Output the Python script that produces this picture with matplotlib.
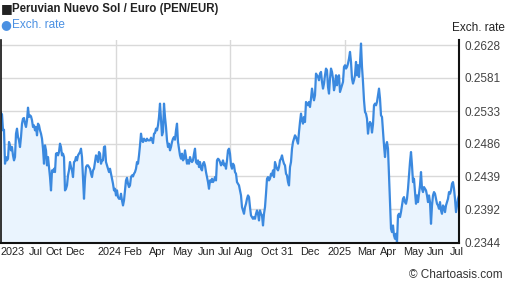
import numpy as np
import matplotlib
matplotlib.use("Agg")
import matplotlib.pyplot as plt

# ========================
# Data (PEN/EUR, roughly one value per pixel column)
# ========================
rate_2023 = [
    0.25302, 0.25283, 0.25053, 0.25062, 0.24573, 0.24669, 0.24621, 0.24645, 0.24885, 0.24837,
    0.24765, 0.24813, 0.24693, 0.24621, 0.24669, 0.25005, 0.25077, 0.24957, 0.24909, 0.24813,
    0.24957, 0.25149, 0.25221, 0.25230, 0.25149, 0.25101, 0.25197, 0.25379, 0.25245, 0.25269,
    0.25254, 0.25197, 0.25101, 0.25125, 0.25053, 0.25101, 0.24981, 0.25149, 0.25125, 0.25053,
    0.25005, 0.24933, 0.24789, 0.24573, 0.24837, 0.24765, 0.24549, 0.24669, 0.24525, 0.24381,
    0.24189, 0.24477, 0.24453, 0.24501, 0.24453, 0.24717, 0.24727, 0.24693, 0.24741, 0.24861,
    0.24813, 0.24693, 0.24717, 0.24669, 0.24189, 0.24213, 0.24261, 0.24405, 0.24477, 0.24597,
    0.24525, 0.24477, 0.24381, 0.24597, 0.24611,
    0.24669, 0.24621, 0.24693, 0.24717, 0.24741, 0.24789, 0.24669, 0.24381, 0.24069, 0.24357,
    0.24525, 0.24549, 0.24549, 0.24525, 0.24501, 0.24429, 0.24381, 0.24477, 0.24501, 0.24597,
    0.24693, 0.24669, 0.24597, 0.24741, 0.24717, 0.24573, 0.24621, 0.24621, 0.24813, 0.24823,
    0.24597, 0.24549, 0.24501, 0.24453, 0.24501, 0.24429, 0.24357, 0.24285, 0.24189, 0.24213,
    0.24117, 0.24189, 0.24093, 0.24069, 0.24069, 0.24141, 0.24045, 0.23973, 0.24045, 0.24189,
    0.24333, 0.24371, 0.24285, 0.24237, 0.24261, 0.24381, 0.24405, 0.24390, 0.24429, 0.24453,
    0.24501, 0.24597, 0.24573, 0.24693, 0.24837, 0.25005, 0.24909, 0.24885, 0.24933, 0.24909,
    0.24899, 0.24933, 0.24909, 0.24909, 0.24909,
]

rate_2024 = [
    0.24947, 0.24918, 0.24870, 0.25005, 0.25014, 0.25077, 0.25053, 0.25125, 0.25245, 0.25437,
    0.25197, 0.24981, 0.25029, 0.25437, 0.25245, 0.25101, 0.24909, 0.24813, 0.24861, 0.24765,
    0.24813, 0.24885, 0.24933, 0.24957, 0.24918, 0.25053, 0.25149, 0.24885, 0.24789, 0.24693,
    0.24645, 0.24717, 0.24621, 0.24645, 0.24765, 0.24669, 0.24573, 0.24621, 0.24573, 0.24669,
    0.24621, 0.24597, 0.24621, 0.24717, 0.24789, 0.24597, 0.24573, 0.24621, 0.24525, 0.24597,
    0.24501, 0.24477, 0.24573, 0.24597, 0.24549, 0.24453, 0.24381, 0.24309, 0.24213, 0.24333,
    0.24309, 0.24357, 0.24309, 0.24333, 0.24381, 0.24333, 0.24621, 0.24645, 0.24631, 0.24597,
    0.24549, 0.24573, 0.24621, 0.24549, 0.24573,
    0.24501, 0.24621, 0.24765, 0.24789, 0.24717, 0.24549, 0.24501, 0.24573, 0.24549, 0.24453,
    0.24429, 0.24309, 0.24285, 0.24261, 0.24189, 0.24117, 0.23949, 0.23901, 0.23853, 0.23949,
    0.23997, 0.24069, 0.24117, 0.24093, 0.23949, 0.23829, 0.23805, 0.23781, 0.23805, 0.23781,
    0.23853, 0.23901, 0.23853, 0.23757, 0.23901, 0.23853, 0.23829, 0.23685, 0.23853, 0.23949,
    0.24141, 0.24357, 0.24381, 0.24333, 0.24357, 0.24429, 0.24405, 0.24477, 0.24381, 0.24597,
    0.24549, 0.24501, 0.24477, 0.24525, 0.24621, 0.24645, 0.24693, 0.24621, 0.24573, 0.24549,
    0.24429, 0.24405, 0.24309, 0.24261, 0.24525, 0.24597,
]

rate_2025 = [
    0.24789, 0.24885, 0.24933, 0.24981, 0.24957, 0.24909, 0.24861, 0.25029, 0.25173, 0.25293,
    0.25197, 0.25149, 0.25245, 0.25173, 0.25461, 0.25437, 0.25413, 0.25461, 0.25389, 0.25509,
    0.25653, 0.25557, 0.25485, 0.25557, 0.25869, 0.25845, 0.25821, 0.25773, 0.25869, 0.25893,
    0.25749, 0.25653, 0.25725, 0.25845, 0.25941, 0.25917, 0.25677, 0.25581, 0.25797, 0.25941,
    0.25893, 0.25797, 0.25629, 0.25701, 0.25845, 0.25701, 0.25821, 0.25845, 0.25605, 0.25653,
    0.25701, 0.25749, 0.25965, 0.25989, 0.25941, 0.25965, 0.26013, 0.26085, 0.26181, 0.26037,
    0.25797, 0.25725, 0.25773, 0.25845, 0.26037, 0.25845, 0.25989, 0.25821, 0.26013, 0.26301,
    0.25965, 0.25749, 0.25485, 0.25317, 0.25293, 0.25221, 0.25005, 0.25125, 0.25173, 0.25149,
    0.25021, 0.25141, 0.25413, 0.25437, 0.25413, 0.25461, 0.25557, 0.25653, 0.25509, 0.25269,
    0.25245, 0.25029, 0.24837, 0.24669, 0.24837, 0.24885, 0.24789, 0.24405, 0.24021, 0.23637,
    0.23589, 0.23685, 0.23541, 0.23493, 0.23565, 0.23445, 0.23829, 0.23853, 0.23805, 0.23877,
    0.23973, 0.24069, 0.24093, 0.24021, 0.23997, 0.24069, 0.24213, 0.24405, 0.24597, 0.24741,
    0.24549, 0.24309, 0.24357, 0.24165, 0.23997, 0.24117, 0.24021, 0.24141, 0.24261, 0.24453,
    0.24213, 0.24165, 0.24237, 0.24213, 0.24189, 0.24117, 0.24021, 0.24117, 0.24021, 0.23709,
    0.23973, 0.24117, 0.24165, 0.24141, 0.24069, 0.23997, 0.23973, 0.23925, 0.24021, 0.23901,
    0.23853, 0.23973, 0.23949, 0.23877, 0.23973, 0.24021, 0.24069, 0.24165, 0.24141, 0.24189,
    0.24285, 0.24309, 0.24213, 0.24069, 0.23877, 0.23973, 0.24069, 0.24117,
]

rates = np.array(rate_2023 + rate_2024 + rate_2025)

y_ticks = [0.2344, 0.2392, 0.2439, 0.2486, 0.2533, 0.2581, 0.2628]
y_labels = ["0.2344", "0.2392", "0.2439", "0.2486", "0.2533", "0.2581", "0.2628"]

x_labels = ["2023", "Jul", "Oct", "Dec", "2024", "Feb", "Apr", "May", "Jun", "Jul",
            "Aug", "Oct 31", "Dec", "2025", "Mar", "Apr", "May", "Jun", "Jul"]
# where each label sits, as a fraction of the time span
x_label_pos = [0.026, 0.077, 0.115, 0.162, 0.236, 0.288, 0.341, 0.397, 0.448, 0.489,
               0.531, 0.603, 0.675, 0.740, 0.797, 0.845, 0.900, 0.950, 0.996]

# ========================
# Figure
# ========================
plt.rcParams['font.family'] = ['Liberation Sans', 'DejaVu Sans']

fig = plt.figure(figsize=(5.07, 2.88), dpi=100)
ax = fig.add_axes([1 / 507, 1 - 242.5 / 288, 458 / 507, 202.5 / 288])

n = len(rates)
x = np.arange(n)
line_color = '#3b89df'

ax.fill_between(x, rates, 0.2300, color='#eaf4fe', lw=0)
ax.plot(x, rates, color=line_color, lw=1.6, solid_joinstyle='round')

ylo = 0.2344
yhi = 0.2628 + 5 * (0.2628 - 0.2344) / 197
ax.set_ylim(ylo, yhi)
ax.set_xlim(0, n - 1)

# grid
for yt in y_ticks[1:]:
    ax.axhline(yt, color='#d9d9d9', lw=1, zorder=0)
for frac in [0.25, 0.5, 0.75]:
    ax.axvline(frac * (n - 1), color='#d9d9d9', lw=1, zorder=0)

ax.yaxis.tick_right()
ax.set_yticks(y_ticks)
ax.set_yticklabels(y_labels, fontsize=8.5, color='#444444')
ax.tick_params(axis='y', length=0, pad=4)

ax.set_xticks([p * (n - 1) for p in x_label_pos])
ax.set_xticklabels(x_labels, fontsize=7.8, color='#222222')
ax.tick_params(axis='x', length=0, pad=3)

ax.spines['top'].set_visible(False)
ax.spines['right'].set_linewidth(1.5)
ax.spines['bottom'].set_linewidth(1.5)
ax.spines['left'].set_linewidth(1.2)
for side in ['right', 'bottom', 'left']:
    ax.spines[side].set_color('#111111')
    ax.spines[side].set_zorder(5)

# titles / legend
fig.text(0.5 / 507, 1 - 9 / 288, "\u25a0", fontsize=9, color='#222222', va='center',
         family='DejaVu Sans')
fig.text(12 / 507, 1 - 9 / 288, "Peruvian Nuevo Sol / Euro (PEN/EUR)", fontsize=8.3,
         fontweight='bold', color='#222222', va='center')
fig.text(0.5 / 507, 1 - 25 / 288, "\u25cf", fontsize=9, color='#4a90e2', va='center',
         family='DejaVu Sans')
fig.text(12 / 507, 1 - 25 / 288, "Exch. rate", fontsize=8.5, color='#4a90e2', va='center')
fig.text(505 / 507, 1 - 28 / 288, "Exch. rate", fontsize=8.5, color='#222222',
         va='center', ha='right')
fig.text(503 / 507, 1 - 275 / 288, "\u00a9 Chartoasis.com", fontsize=8.5, color='#333333',
         va='center', ha='right')

fig.savefig("out.png", dpi=100)
